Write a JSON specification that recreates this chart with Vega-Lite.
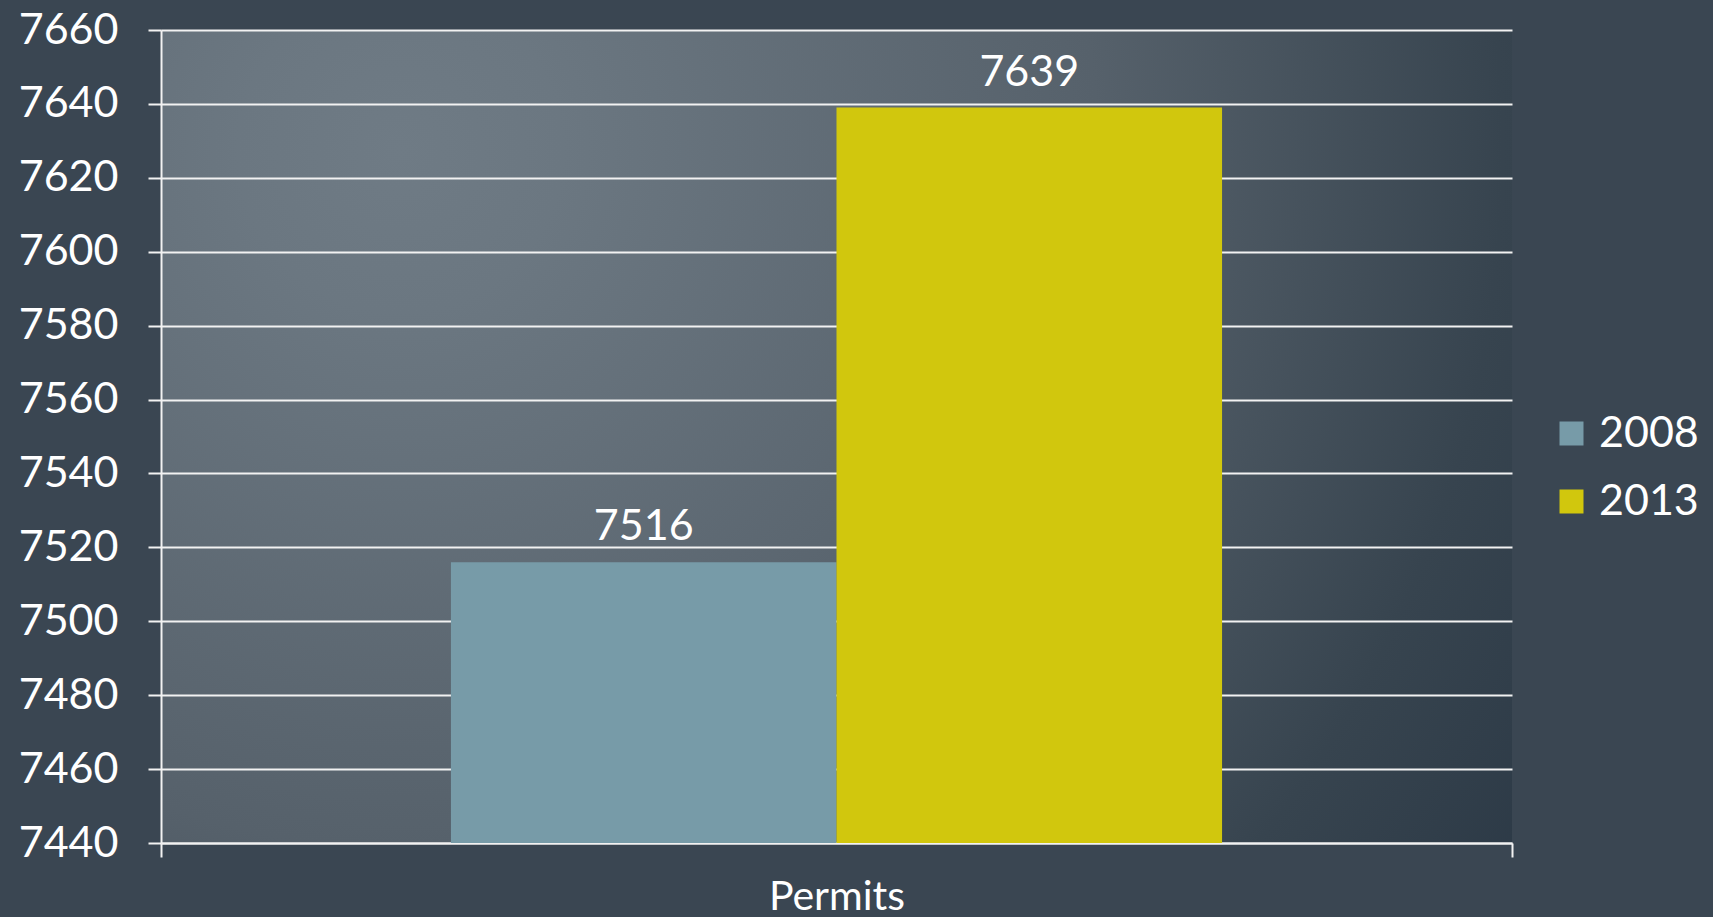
{
  "$schema": "https://vega.github.io/schema/vega-lite/v6.json",
  "width": 1351,
  "height": 813,
  "autosize": {"type": "none"},
  "padding": {"left": 161, "top": 30, "right": 201, "bottom": 74},
  "background": "#3a4652",
  "view": {
    "stroke": null,
    "fill": {
      "gradient": "radial",
      "x1": 0.177, "y1": 0.288, "r1": 0,
      "x2": 0.177, "y2": 0.288, "r2": 1.2,
      "stops": [
        {"offset": 0, "color": "#6f7b85"},
        {"offset": 0.1, "color": "#6b7781"},
        {"offset": 0.43, "color": "#56616b"},
        {"offset": 0.68, "color": "#37444f"},
        {"offset": 1, "color": "#1f2d3c"}
      ]
    }
  },
  "data": {
    "values": [
      {"category": "Permits", "year": "2008", "value": 7516},
      {"category": "Permits", "year": "2013", "value": 7639}
    ]
  },
  "encoding": {
    "x": {
      "field": "category",
      "type": "nominal",
      "scale": {"paddingInner": 0, "paddingOuter": 0},
      "axis": {
        "title": null,
        "labelAngle": 0,
        "labelFont": "Lato",
        "labelFontSize": 41,
        "labelColor": "#ffffff",
        "labelPadding": 20,
        "tickBand": "extent",
        "ticks": true,
        "tickSize": 14,
        "tickWidth": 2,
        "tickColor": "#f2f2f2",
        "domainColor": "#f2f2f2",
        "domainWidth": 2
      }
    },
    "xOffset": {
      "field": "year",
      "type": "nominal",
      "scale": {"paddingInner": 0, "paddingOuter": 0.752}
    },
    "y": {
      "field": "value",
      "type": "quantitative",
      "scale": {"domain": [7440, 7660], "zero": false, "nice": false, "clamp": true},
      "axis": {
        "title": null,
        "format": "d",
        "values": [7440, 7460, 7480, 7500, 7520, 7540, 7560, 7580, 7600, 7620, 7640, 7660],
        "labelFont": "Lato",
        "labelFontSize": 43,
        "labelColor": "#ffffff",
        "labelPadding": 30,
        "tickSize": 13,
        "tickWidth": 2,
        "tickColor": "#f2f2f2",
        "grid": true,
        "gridColor": "#f2f2f2",
        "gridWidth": 2,
        "domainColor": "#f2f2f2",
        "domainWidth": 2
      }
    }
  },
  "layer": [
    {
      "mark": {"type": "bar", "binSpacing": 0},
      "encoding": {
        "color": {
          "field": "year",
          "type": "nominal",
          "scale": {"domain": ["2008", "2013"], "range": ["#779ba8", "#d1c70d"]},
          "legend": {
            "title": null,
            "orient": "none",
            "legendX": 1389,
            "legendY": 382,
            "symbolType": "square",
            "symbolSize": 576,
            "symbolStrokeWidth": 0,
            "symbolOpacity": 1,
            "labelFont": "Lato",
            "labelFontSize": 43,
            "labelColor": "#ffffff",
            "labelOffset": 6,
            "rowPadding": 24
          }
        }
      }
    },
    {
      "mark": {
        "type": "text",
        "baseline": "alphabetic",
        "dy": -22,
        "font": "Lato",
        "fontSize": 43,
        "color": "#ffffff"
      },
      "encoding": {
        "text": {"field": "value", "type": "quantitative", "format": "d"}
      }
    }
  ]
}
